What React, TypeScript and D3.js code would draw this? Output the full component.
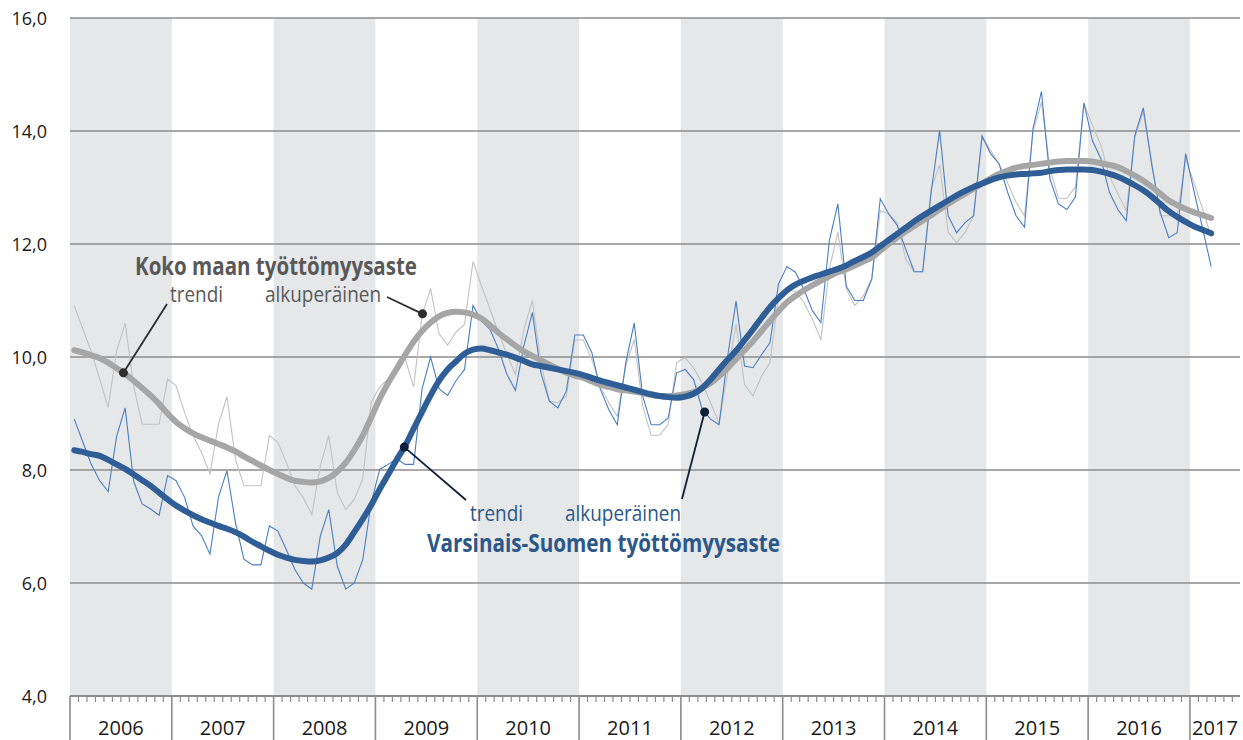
import React from 'react';
import * as d3 from 'd3';

const years = [2006, 2007, 2008, 2009, 2010, 2011, 2012, 2013, 2014, 2015, 2016, 2017];
const yTicks = [4, 6, 8, 10, 12, 14, 16];

// Varsinais-Suomi, original monthly (Jan 2006 – Mar 2017)
const vsOriginal = [
  8.90, 8.50, 8.10, 7.81, 7.62, 8.60, 9.10, 7.80, 7.40, 7.31, 7.20, 7.90,
  7.81, 7.52, 7.01, 6.84, 6.51, 7.52, 7.99, 7.07, 6.42, 6.32, 6.32, 7.01,
  6.92, 6.59, 6.24, 6.00, 5.89, 6.83, 7.30, 6.30, 5.89, 6.00, 6.41, 7.42,
  8.01, 8.10, 8.20, 8.10, 8.10, 9.44, 10.00, 9.44, 9.32, 9.58, 9.78, 10.91,
  10.64, 10.49, 10.14, 9.69, 9.41, 10.20, 10.79, 9.72, 9.22, 9.10, 9.40, 10.39,
  10.39, 10.08, 9.43, 9.07, 8.80, 9.90, 10.60, 9.31, 8.80, 8.80, 8.92, 9.72,
  9.78, 9.60, 9.08, 8.90, 8.80, 10.00, 10.99, 9.84, 9.81, 10.04, 10.25, 11.29,
  11.60, 11.50, 11.20, 10.82, 10.61, 12.06, 12.71, 11.25, 11.00, 11.00, 11.38, 12.80,
  12.53, 12.33, 11.91, 11.51, 11.51, 12.92, 14.01, 12.50, 12.20, 12.38, 12.50, 13.91,
  13.60, 13.42, 12.92, 12.50, 12.30, 14.04, 14.70, 13.15, 12.71, 12.61, 12.83, 14.50,
  13.83, 13.51, 12.92, 12.61, 12.41, 13.92, 14.41, 13.40, 12.56, 12.11, 12.20, 13.60,
  12.92, 12.27, 11.60,
];

// Varsinais-Suomi, trend
const vsTrend = [
  8.35, 8.32, 8.28, 8.25, 8.18, 8.10, 8.02, 7.92, 7.82, 7.72, 7.60, 7.48,
  7.37, 7.28, 7.20, 7.13, 7.07, 7.01, 6.96, 6.90, 6.82, 6.73, 6.65, 6.57,
  6.50, 6.45, 6.41, 6.39, 6.38, 6.40, 6.45, 6.53, 6.68, 6.90, 7.13, 7.38,
  7.66, 7.92, 8.18, 8.43, 8.73, 9.03, 9.32, 9.58, 9.78, 9.92, 10.06, 10.13,
  10.15, 10.12, 10.08, 10.04, 9.99, 9.93, 9.87, 9.84, 9.81, 9.78, 9.75, 9.72,
  9.68, 9.63, 9.58, 9.54, 9.50, 9.46, 9.42, 9.38, 9.34, 9.31, 9.29, 9.28,
  9.30, 9.35, 9.45, 9.60, 9.78, 9.95, 10.11, 10.30, 10.49, 10.69, 10.88, 11.04,
  11.18, 11.28, 11.35, 11.41, 11.46, 11.51, 11.56, 11.62, 11.70, 11.77, 11.85, 11.96,
  12.07, 12.18, 12.29, 12.40, 12.50, 12.59, 12.68, 12.77, 12.86, 12.94, 13.01, 13.07,
  13.13, 13.18, 13.21, 13.23, 13.24, 13.25, 13.26, 13.29, 13.31, 13.32, 13.32, 13.32,
  13.31, 13.28, 13.24, 13.19, 13.12, 13.04, 12.95, 12.84, 12.71, 12.58, 12.48, 12.39,
  12.31, 12.25, 12.19,
];

// Koko maa, original monthly
const fiOriginal = [
  10.91, 10.50, 10.10, 9.61, 9.11, 10.11, 10.60, 9.49, 8.81, 8.81, 8.81, 9.61,
  9.49, 9.02, 8.61, 8.31, 7.93, 8.81, 9.30, 8.19, 7.72, 7.72, 7.72, 8.61,
  8.49, 8.13, 7.72, 7.51, 7.21, 8.07, 8.61, 7.60, 7.30, 7.48, 7.84, 9.20,
  9.47, 9.61, 9.73, 9.97, 9.47, 10.74, 11.21, 10.41, 10.21, 10.44, 10.58, 11.69,
  11.26, 10.85, 10.43, 10.05, 9.69, 10.49, 11.00, 9.90, 9.22, 9.19, 9.31, 10.30,
  10.30, 9.96, 9.48, 9.19, 8.95, 9.84, 10.31, 9.13, 8.61, 8.62, 8.80, 9.90,
  9.99, 9.81, 9.54, 9.19, 8.83, 9.72, 10.58, 9.51, 9.31, 9.66, 9.90, 11.06,
  11.20, 11.15, 10.97, 10.67, 10.31, 11.56, 12.21, 11.20, 10.91, 11.08, 11.38, 12.59,
  12.53, 12.38, 11.73, 11.51, 11.51, 12.98, 13.40, 12.21, 12.02, 12.21, 12.50, 13.89,
  13.66, 13.42, 13.09, 12.74, 12.50, 13.98, 14.51, 13.33, 12.81, 12.81, 13.01, 14.49,
  14.10, 13.75, 13.21, 12.89, 12.59, 13.89, 14.34, 13.45, 12.50, 12.50, 12.50, 13.51,
  13.07, 12.62, 12.12,
];

// Koko maa, trend
const fiTrend = [
  10.12, 10.08, 10.03, 9.98, 9.90, 9.80, 9.70, 9.58, 9.45, 9.32, 9.17, 9.00,
  8.85, 8.74, 8.65, 8.58, 8.52, 8.46, 8.40, 8.33, 8.24, 8.16, 8.08, 8.00,
  7.93, 7.86, 7.81, 7.79, 7.78, 7.80, 7.86, 7.97, 8.13, 8.35, 8.61, 8.93,
  9.26, 9.54, 9.79, 10.04, 10.27, 10.46, 10.61, 10.72, 10.78, 10.80, 10.79, 10.75,
  10.68, 10.56, 10.43, 10.31, 10.20, 10.10, 10.02, 9.94, 9.87, 9.79, 9.72, 9.67,
  9.63, 9.57, 9.51, 9.47, 9.43, 9.41, 9.39, 9.36, 9.33, 9.31, 9.31, 9.32,
  9.34, 9.38, 9.45, 9.54, 9.66, 9.80, 9.96, 10.12, 10.28, 10.46, 10.64, 10.81,
  10.97, 11.08, 11.18, 11.27, 11.35, 11.43, 11.50, 11.55, 11.62, 11.69, 11.76, 11.88,
  12.00, 12.12, 12.22, 12.32, 12.41, 12.51, 12.61, 12.71, 12.80, 12.89, 12.98, 13.07,
  13.16, 13.24, 13.30, 13.35, 13.38, 13.40, 13.42, 13.44, 13.46, 13.47, 13.47, 13.47,
  13.46, 13.43, 13.40, 13.36, 13.29, 13.21, 13.12, 13.01, 12.89, 12.77, 12.69, 12.62,
  12.56, 12.51, 12.46,
];

const C = {
  band: '#e6e7e9',
  grid: '#8c8c8c',
  axis: '#8c8c8c',
  fiThin: '#c2c2c2',
  fiTrend: '#a6a6a6',
  vsThin: '#4a7fc4',
  vsTrend: '#2f5e96',
  fiText: '#595959',
  vsText: '#2b5789',
  fiDot: '#2e2e2e',
  vsDot: '#0e1f3a',
};

const FONT = "'Open Sans', 'Noto Sans', sans-serif";
const CFONT = "'Liberation Sans Narrow', 'Open Sans', 'Noto Sans', sans-serif";

function valueAt(series: number[], t: number) {
  const i0 = Math.floor(t);
  const f = t - i0;
  const a = series[i0];
  const b = series[Math.min(i0 + 1, series.length - 1)];
  return a + (b - a) * f;
}

export default function App() {
  const W = 1243;
  const H = 740;
  const x = d3.scaleLinear().domain([0, 137.9]).range([70, 1240]);
  const y = d3.scaleLinear().domain([4, 16]).range([696, 18]);
  const px = (i: number) => x(i + 0.5);

  const thin = d3.line<number>().x((_, i) => px(i)).y((d) => y(d));
  const smooth = d3
    .line<number>()
    .x((_, i) => px(i))
    .y((d) => y(d))
    .curve(d3.curveMonotoneX);

  const xEnd = x.range()[1];
  const totalMonths = x.domain()[1];

  const monthTicks: number[] = [];
  for (let m = 0; m <= Math.floor(totalMonths); m++) monthTicks.push(m);

  // annotation anchor points on the series
  const fiTrendT = 5.8;
  const fiOrigT = 41.05;
  const vsTrendT = 38.9;
  const vsOrigT = 74.3;
  const dots = [
    { cx: px(fiTrendT), cy: y(valueAt(fiTrend, fiTrendT)), fill: C.fiDot, lx: 167, ly: 304 },
    { cx: px(fiOrigT), cy: y(valueAt(fiOriginal, fiOrigT)), fill: C.fiDot, lx: 387, ly: 297 },
    { cx: px(vsTrendT), cy: y(valueAt(vsTrend, vsTrendT)), fill: C.vsDot, lx: 466, ly: 500 },
    { cx: px(vsOrigT), cy: y(valueAt(vsOriginal, vsOrigT)), fill: C.vsDot, lx: 682, ly: 499 },
  ];

  return (
    <svg
      width={W}
      height={H}
      style={{ position: 'absolute', left: 0, top: 0, background: '#fff' }}
    >
      {/* year bands */}
      {years.map((yr, k) => {
        const x0 = x(k * 12);
        const x1 = Math.min(x((k + 1) * 12), xEnd);
        return k % 2 === 0 ? (
          <rect key={yr} x={x0} y={y(16)} width={x1 - x0} height={y(4) - y(16)} fill={C.band} />
        ) : null;
      })}

      {/* gridlines */}
      {yTicks
        .filter((t) => t > 4)
        .map((t) => (
          <line key={t} x1={x(0)} x2={xEnd} y1={y(t)} y2={y(t)} stroke={C.grid} strokeWidth={1.6} />
        ))}

      {/* y labels */}
      {yTicks.map((t) => (
        <text
          key={t}
          x={47}
          y={y(t) + 7}
          textAnchor="end"
          fontFamily={FONT}
          fontSize={18}
          fill="#1a1a1a"
        >
          {d3.format('.1f')(t).replace('.', ',')}
        </text>
      ))}

      {/* series: thin originals */}
      <path d={thin(fiOriginal) || ''} fill="none" stroke={C.fiThin} strokeWidth={1.1} />
      <path d={thin(vsOriginal) || ''} fill="none" stroke={C.vsThin} strokeWidth={1.1} />

      {/* trends */}
      <path
        d={smooth(fiTrend) || ''}
        fill="none"
        stroke={C.fiTrend}
        strokeWidth={6}
        strokeLinecap="round"
        strokeLinejoin="round"
      />
      <path
        d={smooth(vsTrend) || ''}
        fill="none"
        stroke={C.vsTrend}
        strokeWidth={6}
        strokeLinecap="round"
        strokeLinejoin="round"
      />

      {/* x axis */}
      <line x1={x(0)} x2={xEnd} y1={y(4)} y2={y(4)} stroke={C.axis} strokeWidth={2} />
      {monthTicks.map((m) => (
        <line
          key={m}
          x1={x(m)}
          x2={x(m)}
          y1={y(4)}
          y2={m % 12 === 0 ? H : y(4) + 6}
          stroke={C.axis}
          strokeWidth={m % 12 === 0 ? 1.6 : 1.2}
        />
      ))}
      {years.map((yr, k) => {
        const x0 = x(k * 12);
        const x1 = Math.min(x((k + 1) * 12), xEnd);
        return (
          <text
            key={yr}
            x={(x0 + x1) / 2}
            y={735}
            textAnchor="middle"
            fontFamily={FONT}
            fontSize={20}
            fill="#1a1a1a"
          >
            {yr}
          </text>
        );
      })}

      {/* annotation leaders */}
      {dots.map((d, i) => (
        <g key={i}>
          <line x1={d.lx} y1={d.ly} x2={d.cx} y2={d.cy} stroke={d.fill} strokeWidth={1.8} />
          <circle cx={d.cx} cy={d.cy} r={4.5} fill={d.fill} />
        </g>
      ))}

      {/* annotation texts */}
      <text x={135} y={275} fontFamily={CFONT} fontWeight="bold" fontSize={25} fill={C.fiText}
        textLength={282} lengthAdjust="spacingAndGlyphs">Koko maan työttömyysaste</text>
      <text x={170} y={302} fontFamily={CFONT} fontSize={21} fill={C.fiText}
        textLength={53} lengthAdjust="spacingAndGlyphs">trendi</text>
      <text x={265} y={302} fontFamily={CFONT} fontSize={21} fill={C.fiText}
        textLength={116} lengthAdjust="spacingAndGlyphs">alkuperäinen</text>

      <text x={470} y={521} fontFamily={CFONT} fontSize={21} fill={C.vsText}
        textLength={53} lengthAdjust="spacingAndGlyphs">trendi</text>
      <text x={565} y={521} fontFamily={CFONT} fontSize={21} fill={C.vsText}
        textLength={116} lengthAdjust="spacingAndGlyphs">alkuperäinen</text>
      <text x={427} y={552} fontFamily={CFONT} fontWeight="bold" fontSize={25} fill={C.vsText}
        textLength={353} lengthAdjust="spacingAndGlyphs">Varsinais-Suomen työttömyysaste</text>
    </svg>
  );
}
